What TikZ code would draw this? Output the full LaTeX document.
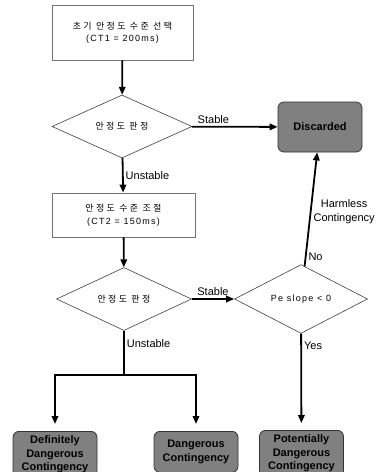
\documentclass[tikz,border=0pt]{standalone}
\usepackage{fontspec}
\setmainfont{Liberation Sans}
\newfontfamily\kr[LetterSpace=26]{Noto Sans CJK KR}
\newfontfamily\krl[LetterSpace=14]{Liberation Sans}
\usetikzlibrary{shapes.geometric,arrows.meta}
\begin{document}
\begin{tikzpicture}[x=1pt,y=-1pt,
  box/.style={draw=black!55,line width=0.8pt,minimum width=141pt,align=center,inner sep=0pt,font=\kr\fontsize{9}{12.5}\selectfont},
  dec/.style={diamond,draw=black!75,line width=0.6pt,inner sep=0pt,align=center},
  res/.style={rounded corners=6pt,draw=black!80,fill=black!50,line width=0.8pt,align=center,font=\bfseries\fontsize{11}{13.5}\selectfont,minimum width=84pt,inner xsep=0pt,inner ysep=2pt},
  flow/.style={line width=1.8pt,-{Triangle[length=8pt,width=6.5pt]}},
  bar/.style={line width=1.8pt},
  lbl/.style={font=\fontsize{11}{14}\selectfont,inner sep=2pt,align=center}
]
\useasboundingbox (0,0) rectangle (379,472);
\fill[white] (0,0) rectangle (379,472);
\node[box,minimum height=55pt] (b1) at (122.5,32.5) {초기 안정도 수준 선택\\{\krl (CT1 = 200ms)}};
\node[dec,minimum width=140pt,minimum height=63pt,font=\kr\fontsize{9}{12}\selectfont] (d1) at (122,126.5) {안정도 판정};
\node[res,minimum height=50pt] (disc) at (320,127) {Discarded};
\node[box,minimum width=143pt,minimum height=44pt] (b2) at (123.5,215) {안정도 수준 조절\\{\krl (CT2 = 150ms)}};
\node[dec,minimum width=135pt,minimum height=63pt,font=\kr\fontsize{9}{12}\selectfont] (d2) at (124,299) {안정도 판정};
\node[dec,minimum width=133pt,minimum height=63pt,font=\krl\fontsize{9}{12}\selectfont] (d3) at (301,299) {Pe slope < 0};
\node[res,anchor=north,minimum height=46pt] (def) at (55,431) {Definitely\\Dangerous\\Contingency};
\node[res,anchor=north,minimum height=41pt] (dang) at (196,431) {Dangerous\\Contingency};
\node[res,anchor=north,minimum height=46pt] (pot) at (301.5,430) {Potentially\\Dangerous\\Contingency};
\coordinate (j) at (d2.south |- 0,375);
\coordinate (jl) at (def.north |- j);
\coordinate (jr) at (dang.north |- j);
\draw[flow] (b1) -- (d1);
\draw[flow] (d1) -- node[lbl,above,pos=0.25] (s1) {Stable} (disc);
\draw[flow] (d1) -- node[lbl,right,midway] (u1) {Unstable} (b2);
\draw[flow] (b2) -- (d2);
\draw[flow] (d2) -- node[lbl,above,midway] (s2) {Stable} (d3);
\draw[flow] (d3) -- node[lbl,right,pos=0.08] (no) {No} node[lbl,right,pos=0.48] (hc) {Harmless\\Contingency} (disc);
\draw[flow,shorten >=7pt] (d3) -- node[lbl,right,pos=0.13] (yes) {Yes} (pot);
\draw[bar] (d2.south) -- node[lbl,right,pos=0.3] (u2) {Unstable} (j);
\draw[bar] ([xshift=-0.9pt]jl) -- ([xshift=0.9pt]jr);
\draw[flow,shorten >=7pt] (jl) -- (def);
\draw[flow,shorten >=7pt] (jr) -- (dang);
\end{tikzpicture}
\end{document}
